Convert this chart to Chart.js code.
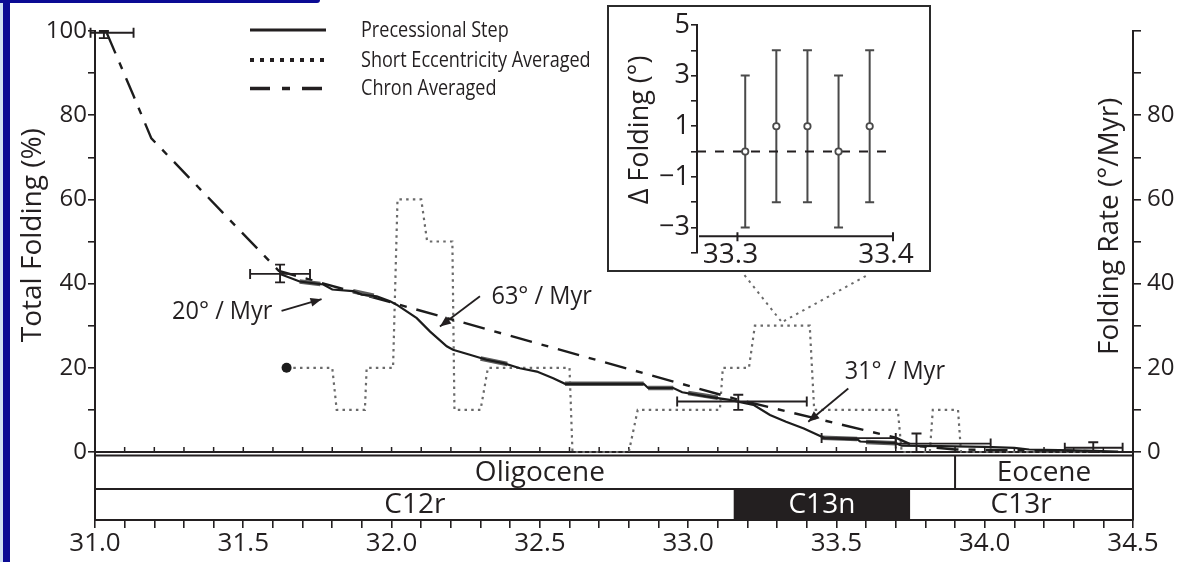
<!DOCTYPE html>
<html>
<head>
<meta charset="utf-8">
<script src="https://cdn.jsdelivr.net/npm/chart.js@4.4.1/dist/chart.umd.min.js"></script>
<style>
  html, body { margin: 0; padding: 0; background: #fff; }
  #wrap { position: relative; width: 1178px; height: 562px; overflow: hidden; background: #fff; }
  #main { position: absolute; left: 0; top: 0; }
  #insetBox { position: absolute; left: 607px; top: 5px; width: 324px; height: 267px;
              box-sizing: border-box; border: 2px solid #2b2b2b; background: #fff; }
  #inset { position: absolute; left: 0; top: 0; }
  .edgeL { position: absolute; left: 0; top: 0; width: 3px; height: 562px; background: #cfe0f2; }
  .edgeB { position: absolute; left: 3px; top: 0; width: 7px; height: 562px; background: #0b0b94; }
  .edgeT { position: absolute; left: 0; top: 0; width: 320px; height: 3px; background: #0b0b94;
           border-bottom-right-radius: 3px; }
</style>
</head>
<body>
<div id="wrap">
  <canvas id="main" width="1178" height="562"></canvas>
  <div id="insetBox"><canvas id="inset" width="320" height="263"></canvas></div>
  <div class="edgeL"></div><div class="edgeB"></div><div class="edgeT"></div>
</div>
<script>
// ---------- data ----------
const seriesNames = ['Precessional Step', 'Short Eccentricity Averaged', 'Chron Averaged'];

// cumulative folding, precessional steps (age Ma, % of total folding)
const precAge = [31.624, 31.69, 31.77, 31.80, 31.87, 31.90, 31.95, 31.995, 32.017, 32.085, 32.13, 32.186,
                 32.207, 32.264, 32.32, 32.377, 32.433, 32.49, 32.545, 32.585, 32.85, 32.865, 32.95, 32.98,
                 33.06, 33.14, 33.22, 33.276, 33.33, 33.39, 33.445, 33.46, 33.57, 33.58, 33.70, 33.72,
                 33.85, 34.00, 34.10, 34.15, 34.30, 34.45];
const precFold = [42.3, 40.5, 39.8, 38.6, 38.2, 37.4, 37.0, 35.8, 35.0, 31.8, 28.6, 25.1,
                  24.3, 23.1, 21.9, 21.1, 19.9, 19.1, 17.5, 16.2, 16.2, 15.2, 15.2, 14.2,
                  13.2, 12.4, 11.2, 8.8, 7.2, 5.6, 3.8, 3.3, 3.0, 2.5, 2.1, 1.5,
                  1.4, 1.2, 1.0, 0.6, 0.4, 0.1];

// overlapping second record of the precessional steps (drawn as a grey band)
const bandAge  = [31.69, 31.76, null, 31.87, 31.94, null, 32.30, 32.39, null, 32.585, 32.85, null,
                  32.865, 32.95, null, 33.00, 33.10, null, 33.45, 33.57, null, 33.60, 33.70];
const bandFold = [40.5, 39.9, null, 38.2, 37.1, null, 22.2, 20.9, null, 16.2, 16.2, null,
                  15.2, 15.2, null, 14.0, 12.9, null, 3.4, 3.1, null, 2.4, 2.1];

// folding rate averaged over short eccentricity cycles (deg / Myr)
const eccAge  = [31.646, 31.800, 31.815, 31.910, 31.916, 32.005, 32.020, 32.100, 32.120, 32.205,
                 32.212, 32.300, 32.325, 32.600, 32.610, 32.800, 32.830, 33.107, 33.117, 33.205,
                 33.225, 33.410, 33.425, 33.707, 33.720, 33.815, 33.825, 33.910, 33.920, 34.400];
const eccRate = [20, 20, 10, 10, 20, 20, 60, 60, 50, 50,
                 10, 10, 20, 20, 0, 0, 10, 10, 20, 20,
                 30, 30, 10, 10, 0, 0, 10, 10, 0, 0];

// cumulative folding averaged per magnetochron (%)
const chronAge  = [31.04, 31.13, 31.19, 31.62, 32.00, 33.17, 33.70, 33.76, 33.90, 34.40];
const chronFold = [99.5, 84.6, 74.5, 43.0, 35.5, 12.4, 3.4, 1.5, 0.6, 0.2];

// age / folding uncertainties (null = not shown)
const errAge   = [31.03, 31.624, 33.169, 33.575, 33.77, 34.366];
const errFold  = [99.6, 42.3, 12.0, 3.3, 2.0, 1.0];
const errAgeLo = [30.985, 31.523, 32.963, 33.45, 33.70, 34.27];
const errAgeHi = [31.13, 31.725, 33.40, 33.70, 34.02, 34.465];
const errFoldLo = [98.3, 40.3, 10.0, null, 0.0, 0.0];
const errFoldHi = [100.0, 44.5, 13.6, null, 4.4, 2.3];

// time scale
const epochNames = ['Oligocene', 'Eocene'];
const epochStart = [31.0, 33.9];
const epochEnd   = [33.9, 34.5];
const epochLabelAge = [32.5, 34.2];
const chronNames = ['C12r', 'C13n', 'C13r'];
const chronStart = [31.0, 33.157, 33.745];
const chronEnd   = [33.157, 33.745, 34.5];
const chronNormal = [false, true, false];

// axis ticks
const xLabels = ['31.0', '31.5', '32.0', '32.5', '33.0', '33.5', '34.0', '34.5'];
const leftLabels = ['0', '20', '40', '60', '80', '100'];
const rightLabels = ['0', '20', '40', '60', '80'];

// rate annotations
const rateText = ['20° / Myr', '63° / Myr', '31° / Myr'];

// inset: difference in folding between successive precessional steps
const insetAge  = [33.305, 33.325, 33.345, 33.365, 33.385];
const insetDiff = [0, 1, 1, 0, 1];
const insetLo   = [-3, -2, -2, -3, -2];
const insetHi   = [3, 4, 4, 3, 4];
const insetXLabels = ['33.3', '33.4'];
const insetYLabels = ['5', '3', '1', '\u22121', '\u22123'];

// ---------- layout / style ----------
const FONT = "'Open Sans', 'Noto Sans', sans-serif";
const INK = '#231f20';
const Y_MIN = -16.15;             // room for the time-scale columns below 0
const xMinor = [];
for (let i = 0; i <= 35; i++) xMinor.push(Math.round((31 + i * 0.1) * 10) / 10);
const yMinor = [];
for (let v = 0; v <= 100; v += 10) yMinor.push(v);

const notePos = [
  { x: 31.429, y: 33.3, from: [31.629, 33.5], to: [31.764, 36.3] },
  { x: 32.506, y: 36.9, from: [32.298, 37.0], to: [32.163, 29.8] },
  { x: 33.697, y: 19.1, from: [33.540, 15.1], to: [33.405, 7.2] }
];
const connectors = [
  { from: [33.19, 42.0], to: [33.313, 31.1] },
  { from: [33.599, 41.8], to: [33.323, 31.1] }
];

function pts(xs, ys) {
  return xs.map((x, i) => (x === null ? { x: NaN, y: null } : { x: x, y: ys[i] }));
}

function arrow(ctx, x0, y0, x1, y1) {
  ctx.beginPath(); ctx.moveTo(x0, y0); ctx.lineTo(x1, y1); ctx.stroke();
  const a = Math.atan2(y1 - y0, x1 - x0), L = 11, W = 4.5;
  ctx.beginPath();
  ctx.moveTo(x1, y1);
  ctx.lineTo(x1 - L * Math.cos(a) + W * Math.sin(a), y1 - L * Math.sin(a) - W * Math.cos(a));
  ctx.lineTo(x1 - L * Math.cos(a) - W * Math.sin(a), y1 - L * Math.sin(a) + W * Math.cos(a));
  ctx.closePath(); ctx.fill();
}

function narrowText(ctx, text, x, y, size, sx, align) {
  ctx.save();
  ctx.font = size + 'px ' + FONT;
  ctx.textBaseline = 'middle';
  ctx.textAlign = align || 'left';
  ctx.translate(x, y);
  ctx.scale(sx, 1);
  ctx.fillText(text, 0, 0);
  ctx.restore();
}

// time-scale columns and the zero line with inward ticks
const columns = {
  id: 'columns',
  beforeDatasetsDraw(chart) {
    const { ctx, chartArea: a, scales: { x, y } } = chart;
    const z = y.getPixelForValue(0);
    const eTop = z + 3.5, eBot = z + 37, cBot = a.bottom;
    ctx.save();
    ctx.fillStyle = INK;
    chronNames.forEach((n, i) => {
      if (chronNormal[i]) {
        const x0 = x.getPixelForValue(chronStart[i]), x1 = x.getPixelForValue(chronEnd[i]);
        ctx.fillRect(x0, eBot, x1 - x0, cBot - eBot);
      }
    });
    ctx.strokeStyle = INK; ctx.lineWidth = 2;
    ctx.beginPath();
    ctx.moveTo(a.left, eTop); ctx.lineTo(a.right, eTop);
    ctx.moveTo(a.left, eBot); ctx.lineTo(a.right, eBot);
    epochStart.slice(1).forEach(v => { const p = x.getPixelForValue(v); ctx.moveTo(p, eTop); ctx.lineTo(p, eBot); });
    chronStart.slice(1).forEach(v => { const p = x.getPixelForValue(v); ctx.moveTo(p, eBot); ctx.lineTo(p, cBot); });
    ctx.stroke();
    // zero line
    ctx.lineWidth = 2.2;
    ctx.beginPath(); ctx.moveTo(a.left, z); ctx.lineTo(a.right, z); ctx.stroke();
    ctx.lineWidth = 1.5;
    ctx.beginPath();
    xMinor.forEach(v => { const p = x.getPixelForValue(v); ctx.moveTo(p, z); ctx.lineTo(p, z - 5); });
    ctx.stroke();
    // labels
    ctx.font = '28px ' + FONT; ctx.textAlign = 'center'; ctx.textBaseline = 'middle';
    epochNames.forEach((n, i) => { ctx.fillStyle = INK; ctx.fillText(n, x.getPixelForValue(epochLabelAge[i]), (eTop + eBot) / 2 + 1); });
    chronNames.forEach((n, i) => {
      ctx.fillStyle = chronNormal[i] ? '#fff' : INK;
      ctx.fillText(n, x.getPixelForValue((chronStart[i] + chronEnd[i]) / 2), (eBot + cBot) / 2 + 1);
    });
    // dotted guides toward the inset
    ctx.strokeStyle = '#6a6a6a'; ctx.lineWidth = 2; ctx.setLineDash([2.5, 4.5]);
    connectors.forEach(c => {
      ctx.beginPath();
      ctx.moveTo(x.getPixelForValue(c.from[0]), y.getPixelForValue(c.from[1]));
      ctx.lineTo(x.getPixelForValue(c.to[0]), y.getPixelForValue(c.to[1]));
      ctx.stroke();
    });
    ctx.restore();
  }
};

// error bars, annotations, legend and axis titles
const overlay = {
  id: 'overlay',
  afterDatasetsDraw(chart) {
    const { ctx, scales: { x, y } } = chart;
    ctx.save();
    ctx.strokeStyle = INK; ctx.lineWidth = 1.9;
    errAge.forEach((ax, i) => {
      const px = x.getPixelForValue(ax), py = y.getPixelForValue(errFold[i]);
      ctx.beginPath();
      if (errAgeLo[i] !== null) {
        const l = x.getPixelForValue(errAgeLo[i]), r = x.getPixelForValue(errAgeHi[i]);
        ctx.moveTo(l, py); ctx.lineTo(r, py);
        ctx.moveTo(l, py - 5); ctx.lineTo(l, py + 5);
        ctx.moveTo(r, py - 5); ctx.lineTo(r, py + 5);
      }
      if (errFoldLo[i] !== null) {
        const t = y.getPixelForValue(errFoldHi[i]), b = y.getPixelForValue(errFoldLo[i]);
        ctx.moveTo(px, t); ctx.lineTo(px, b);
        ctx.moveTo(px - 5, t); ctx.lineTo(px + 5, t);
        ctx.moveTo(px - 5, b); ctx.lineTo(px + 5, b);
      }
      ctx.stroke();
    });
    ctx.restore();
  },
  afterDraw(chart) {
    const { ctx, scales: { x, y } } = chart;
    ctx.save();
    ctx.fillStyle = INK; ctx.strokeStyle = INK; ctx.lineWidth = 1.8;
    rateText.forEach((t, i) => {
      const n = notePos[i];
      narrowText(ctx, t, x.getPixelForValue(n.x), y.getPixelForValue(n.y), 25, 0.94, 'center');
      arrow(ctx, x.getPixelForValue(n.from[0]), y.getPixelForValue(n.from[1]),
                 x.getPixelForValue(n.to[0]), y.getPixelForValue(n.to[1]));
    });
    // legend
    const rows = [30, 60, 88.5];
    const dashes = [[], [4, 6], [20, 12, 8, 12]];
    const widths = [3, 4, 3.5];
    seriesNames.forEach((s, i) => {
      ctx.save();
      ctx.strokeStyle = INK; ctx.lineWidth = widths[i]; ctx.setLineDash(dashes[i]);
      ctx.beginPath(); ctx.moveTo(250, rows[i]); ctx.lineTo(326, rows[i]); ctx.stroke();
      ctx.restore();
      narrowText(ctx, s, 361, rows[i] + 1, 21, 0.86, 'left');
    });
    // axis titles
    ctx.save();
    ctx.font = '28px ' + FONT; ctx.textAlign = 'center'; ctx.textBaseline = 'middle';
    ctx.translate(33, y.getPixelForValue(51.5)); ctx.rotate(-Math.PI / 2);
    ctx.fillText('Total Folding (%)', 0, 0);
    ctx.restore();
    ctx.save();
    ctx.font = '28px ' + FONT; ctx.textAlign = 'center'; ctx.textBaseline = 'middle';
    ctx.translate(1110, y.getPixelForValue(53.6)); ctx.rotate(-Math.PI / 2);
    ctx.fillText('Folding Rate (°/Myr)', 0, 0);
    ctx.restore();
    ctx.restore();
  }
};

function yAxis(position, labels, width, tickLen, pad) {
  return {
    position: position, min: Y_MIN, max: 100,
    afterBuildTicks: s => { s.ticks = yMinor.map(v => ({ value: v })); },
    afterFit: s => { s.width = width; },
    ticks: {
      autoSkip: false, padding: pad, color: INK, font: { family: FONT, size: 24 },
      callback: v => (labels.includes(String(v)) ? String(v) : '')
    },
    grid: { drawOnChartArea: false, drawTicks: true, tickLength: tickLen, color: INK, lineWidth: 1.6 },
    border: { display: true, color: INK, width: 2 }
  };
}

function build() {
  new Chart(document.getElementById('main'), {
    type: 'line',
    data: {
      datasets: [
        { label: seriesNames[0], data: pts(precAge, precFold), yAxisID: 'y',
          borderColor: '#1c1c1c', borderWidth: 2.2, pointRadius: 0, tension: 0 },
        { label: '', data: pts(bandAge, bandFold), yAxisID: 'y', spanGaps: false,
          borderColor: '#5c5c5c', borderWidth: 4.5, pointRadius: 0, tension: 0 },
        { label: seriesNames[2], data: pts(chronAge, chronFold), yAxisID: 'y',
          borderColor: '#1c1c1c', borderWidth: 2.4, borderDash: [22, 10, 7, 10], pointRadius: 0, tension: 0 },
        { label: seriesNames[1], data: pts(eccAge, eccRate), yAxisID: 'yR',
          borderColor: '#6a6a6a', borderWidth: 2.2, borderDash: [2.5, 4.2], tension: 0,
          pointRadius: c => (c.dataIndex === 0 ? 5 : 0), pointBackgroundColor: '#1c1c1c',
          pointBorderWidth: 0, pointHoverRadius: 0 }
      ]
    },
    options: {
      responsive: false, animation: false, events: [],
      layout: { padding: { top: 31, left: 0, right: 0, bottom: 0 } },
      plugins: { legend: { display: false }, tooltip: { enabled: false } },
      scales: {
        x: {
          type: 'linear', min: 31, max: 34.5, position: 'bottom',
          afterBuildTicks: s => { s.ticks = xMinor.map(v => ({ value: v })); },
          afterFit: s => { s.height = 42; },
          ticks: {
            autoSkip: false, maxRotation: 0, padding: 0, color: INK, font: { family: FONT, size: 26 },
            callback: v => { const l = Number(v).toFixed(1); return xLabels.includes(l) ? l : ''; }
          },
          grid: { drawOnChartArea: false, drawTicks: true, tickLength: 8, color: INK, lineWidth: 1.6 },
          border: { display: true, color: INK, width: 2 }
        },
        y: yAxis('left', leftLabels, 95, 7, 1),
        yR: yAxis('right', rightLabels, 45, 8, 6)
      }
    },
    plugins: [columns, overlay]
  });

  // inset
  const insetDecor = {
    id: 'insetDecor',
    beforeDatasetsDraw(chart) {
      const { ctx, chartArea: a, scales: { x, y } } = chart;
      ctx.save();
      ctx.strokeStyle = '#4a4a4a'; ctx.lineWidth = 2;
      insetAge.forEach((ax, i) => {
        const px = x.getPixelForValue(ax), t = y.getPixelForValue(insetHi[i]), b = y.getPixelForValue(insetLo[i]);
        ctx.beginPath();
        ctx.moveTo(px, t); ctx.lineTo(px, b);
        ctx.moveTo(px - 4.5, t); ctx.lineTo(px + 4.5, t);
        ctx.moveTo(px - 4.5, b); ctx.lineTo(px + 4.5, b);
        ctx.stroke();
      });
      // age axis
      const ay = y.getPixelForValue(-3.35);
      ctx.strokeStyle = INK; ctx.lineWidth = 2;
      ctx.beginPath(); ctx.moveTo(a.left + 2, ay); ctx.lineTo(x.getPixelForValue(33.4), ay);
      insetXLabels.forEach(l => { const p = x.getPixelForValue(Number(l)); ctx.moveTo(p, ay - 4); ctx.lineTo(p, ay + 5); });
      ctx.stroke();
      ctx.fillStyle = INK; ctx.font = '28px ' + FONT; ctx.textAlign = 'center'; ctx.textBaseline = 'middle';
      insetXLabels.forEach(l => ctx.fillText(l, x.getPixelForValue(Number(l)) - 7, ay + 19));
      ctx.save();
      ctx.translate(31, 123); ctx.rotate(-Math.PI / 2);
      ctx.font = '27px ' + FONT;
      ctx.fillText('\u0394 Folding (°)', 0, 0);
      ctx.restore();
      ctx.restore();
    }
  };
  const insetYMinor = [];
  for (let v = -4; v <= 5; v++) insetYMinor.push(v);
  new Chart(document.getElementById('inset'), {
    type: 'line',
    data: {
      datasets: [
        { data: insetAge.map((a, i) => ({ x: a, y: insetDiff[i] })), showLine: false,
          pointRadius: 3.2, pointBackgroundColor: '#fff', pointBorderColor: '#4a4a4a', pointBorderWidth: 1.8 },
        { data: [{ x: 33.274, y: 0 }, { x: 33.4, y: 0 }], borderColor: INK, borderWidth: 2,
          borderDash: [9, 9], pointRadius: 0 }
      ]
    },
    options: {
      responsive: false, animation: false, events: [],
      layout: { padding: { top: 18, right: 36, bottom: 15, left: 0 } },
      plugins: { legend: { display: false }, tooltip: { enabled: false } },
      scales: {
        x: { type: 'linear', min: 33.274, max: 33.4, display: false },
        y: {
          min: -4, max: 5,
          afterBuildTicks: s => { s.ticks = insetYMinor.map(v => ({ value: v })); },
          afterFit: s => { s.width = 88; },
          ticks: {
            autoSkip: false, padding: 1, color: INK, font: { family: FONT, size: 27 },
            callback: v => { const l = v < 0 ? '\u2212' + Math.abs(v) : String(v); return insetYLabels.includes(l) ? l : ''; }
          },
          grid: { drawOnChartArea: false, drawTicks: true, tickLength: 6, color: INK, lineWidth: 1.6 },
          border: { display: true, color: INK, width: 2 }
        }
      }
    },
    plugins: [insetDecor]
  });
}

if (document.fonts && document.fonts.load) {
  document.fonts.load('24px "Open Sans"').then(build, build);
} else {
  build();
}
</script>
</body>
</html>
